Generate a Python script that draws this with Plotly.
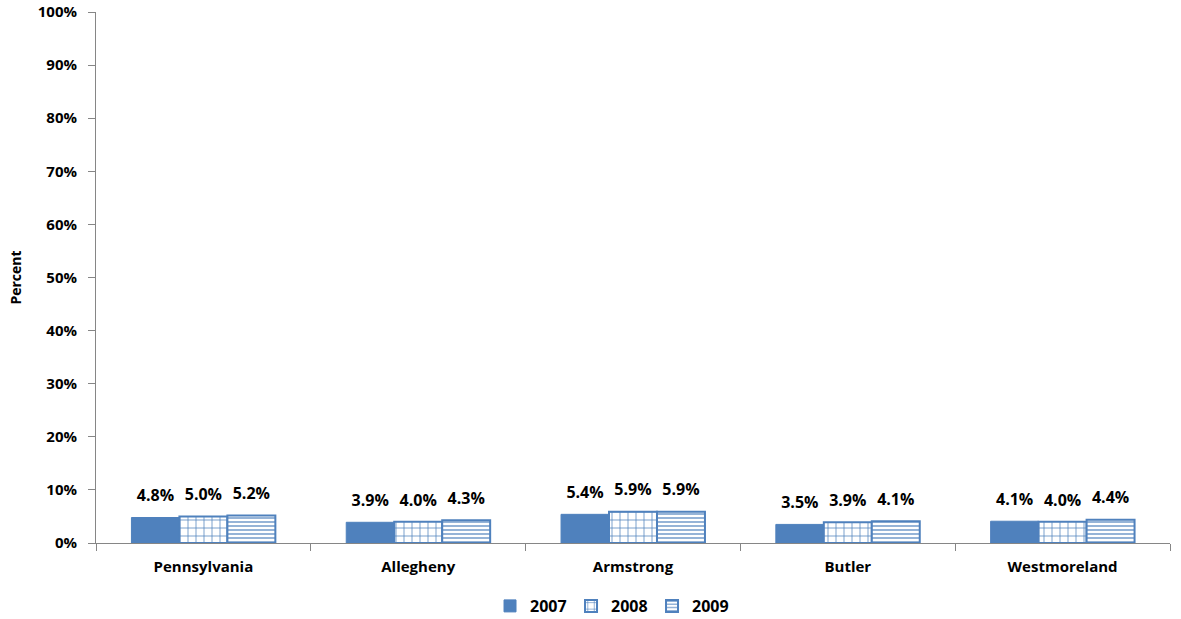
import plotly.graph_objects as go

regions = ["Pennsylvania", "Allegheny", "Armstrong", "Butler", "Westmoreland"]
years = ["2007", "2008", "2009"]
pct_2007 = [4.8, 3.9, 5.4, 3.5, 4.1]
pct_2008 = [5.0, 4.0, 5.9, 3.9, 4.0]
pct_2009 = [5.2, 4.3, 5.9, 4.1, 4.4]

blue = "#4F81BD"
axis_grey = "#868686"
font_family = "'Open Sans', sans-serif"

fig = go.Figure()

series = [pct_2007, pct_2008, pct_2009]
patterns = [None, ("+", 8, 0.18), ("-", 4, 0.3)]
for yr, vals, pat in zip(years, series, patterns):
    if pat:
        shape, size, solidity = pat
        marker = dict(color="white", line=dict(color=blue, width=2),
                      pattern=dict(shape=shape, fgcolor=blue, bgcolor="white",
                                   size=size, solidity=solidity, fillmode="replace"))
    else:
        marker = dict(color=blue, line=dict(color=blue, width=1))
    fig.add_trace(go.Bar(x=regions, y=vals, name=yr, marker=marker, offsetgroup=yr))

# data labels, drawn as text-only scatter traces aligned with the bar groups
for yr, vals in zip(years, series):
    fig.add_trace(go.Scatter(
        x=regions, y=vals, mode="markers+text", offsetgroup=yr,
        marker=dict(size=18, opacity=0),
        text=[f"{v:.1f}%" for v in vals], textposition="top center",
        textfont=dict(family=font_family, size=16, color="black", weight="bold"),
        showlegend=False, hoverinfo="skip", cliponaxis=False,
    ))

fig.update_layout(
    barmode="group",
    scattermode="group",
    bargap=0.33,
    bargroupgap=0,
    scattergap=0.33,
    width=1181, height=619,
    margin=dict(l=96, r=11, t=12, b=76, autoexpand=False),
    plot_bgcolor="white",
    paper_bgcolor="white",
    font=dict(family=font_family, size=15, color="black"),
    showlegend=True,
    legend=dict(orientation="h", x=0.48, xanchor="center",
                yref="container", y=0.021, yanchor="middle",
                font=dict(family=font_family, size=16, weight="bold"),
                itemwidth=30, entrywidth=36, traceorder="normal"),
)

fig.update_yaxes(
    range=[0, 100], dtick=10, ticksuffix="%",
    showgrid=False, zeroline=False, automargin=False,
    showline=True, linecolor=axis_grey, linewidth=1,
    ticks="outside", ticklen=7, tickcolor=axis_grey, ticklabelstandoff=8,
    tickfont=dict(family=font_family, size=15, weight="bold"),
    title=dict(text="Percent", font=dict(family=font_family, size=14, weight="bold"), standoff=12),
)
fig.update_xaxes(
    showgrid=False, showline=True, linecolor=axis_grey, linewidth=1, automargin=False,
    ticks="outside", ticklen=7, tickcolor=axis_grey, tickson="boundaries",
    ticklabelstandoff=10,
    tickfont=dict(family=font_family, size=15, weight="bold"),
)

# drop the default 8px page margin so the figure fills the window
fig.write_html("out.html", config={"displayModeBar": False},
               post_script="document.body.style.margin='0';")
